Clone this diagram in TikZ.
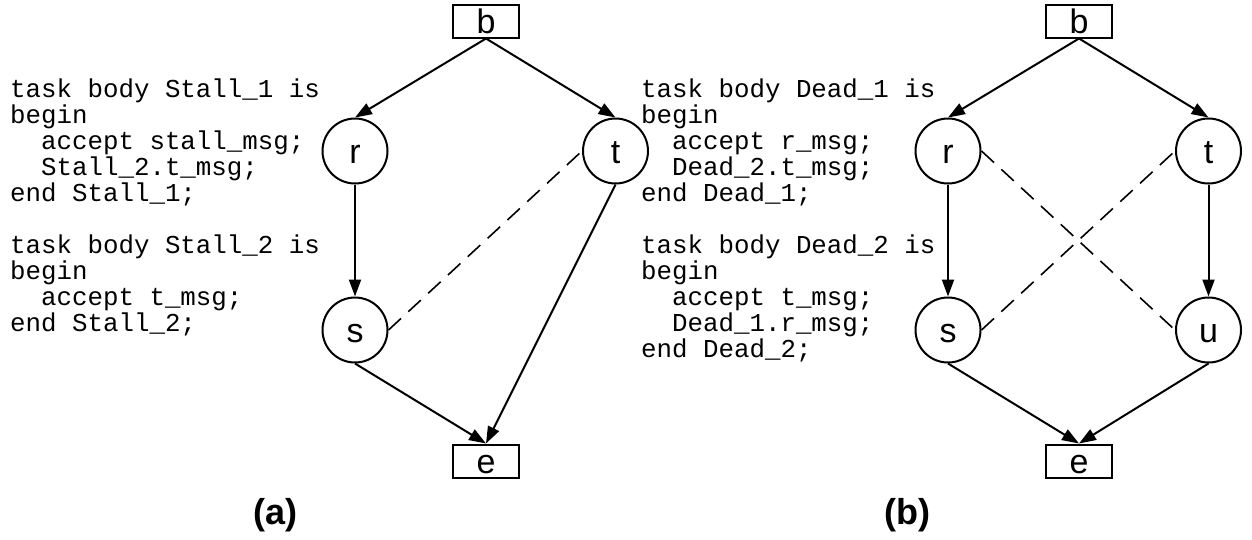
\documentclass[tikz,border=0pt]{standalone}
\usepackage{fontspec}
\setmainfont{Liberation Sans}
\setsansfont{Liberation Sans}
\setmonofont{Liberation Mono}
\usetikzlibrary{arrows.meta}
\begin{document}
\begin{tikzpicture}[x=1pt,y=-1pt,
  every node/.style={inner sep=0pt},
  lbl/.style={font=\fontsize{34}{40}\selectfont\sffamily, text height=25pt, text depth=0pt},
  taskbox/.style={lbl, draw, line width=2pt, minimum width=66pt, minimum height=33pt},
  evt/.style={lbl, draw, circle, line width=2pt, minimum size=65pt},
  flow/.style={line width=2pt, -{Triangle[length=17pt,width=12pt]}},
  sync/.style={line width=1.6pt, dash pattern=on 17pt off 10pt},
  code/.style={anchor=base west, align=left, font=\fontsize{25.8}{26}\selectfont\ttfamily},
  caption/.style={font=\fontsize{36}{40}\selectfont\sffamily\bfseries}]
\useasboundingbox (0,0) rectangle (1252,539);

% ---------- (a) stall ----------
% anchored at the baseline of its last line
\node[code] (codeA) at (10,331) {task body Stall\_1 is\\begin\\\phantom{xx}accept stall\_msg;\\\phantom{xx}Stall\_2.t\_msg;\\end Stall\_1;\\[26pt]task body Stall\_2 is\\begin\\\phantom{xx}accept t\_msg;\\end Stall\_2;};

\node[taskbox] (bA) at (486,21) {b};
\node[evt] (rA) at (355,151) {r};
\node[evt] (tA) at (615.5,151) {t};
\node[evt] (sA) at (355,330) {s};
\node[taskbox] (eA) at (486,461) {e};

\draw[flow] (bA.south) -- (rA.north);
\draw[flow] (bA.south) -- (tA.north);
\draw[flow] (rA) -- (sA);
\draw[flow] (sA.south) -- (eA.north);
\draw[flow] (tA.south) -- (eA.north);
\draw[sync] (sA.east) -- (tA.west);

\node[caption] (capA) at (275.5,515) {(a)};

% ---------- (b) deadlock ----------
\node[code] (codeB) at (641,357) {task body Dead\_1 is\\begin\\\phantom{xx}accept r\_msg;\\\phantom{xx}Dead\_2.t\_msg;\\end Dead\_1;\\[26pt]task body Dead\_2 is\\begin\\\phantom{xx}accept t\_msg;\\\phantom{xx}Dead\_1.r\_msg;\\end Dead\_2;};

\node[taskbox] (bB) at (1079,21) {b};
\node[evt] (rB) at (948,151) {r};
\node[evt] (tB) at (1208.5,151) {t};
\node[evt] (sB) at (948,330) {s};
\node[evt] (uB) at (1208.5,330) {u};
\node[taskbox] (eB) at (1079,461) {e};

\draw[flow] (bB.south) -- (rB.north);
\draw[flow] (bB.south) -- (tB.north);
\draw[flow] (rB) -- (sB);
\draw[flow] (tB) -- (uB);
\draw[flow] (sB.south) -- (eB.north);
\draw[flow] (uB.south) -- (eB.north);
\draw[sync] (rB.east) -- (uB.west);
\draw[sync] (sB.east) -- (tB.west);

\node[caption] (capB) at (907.5,515) {(b)};
\end{tikzpicture}
\end{document}
